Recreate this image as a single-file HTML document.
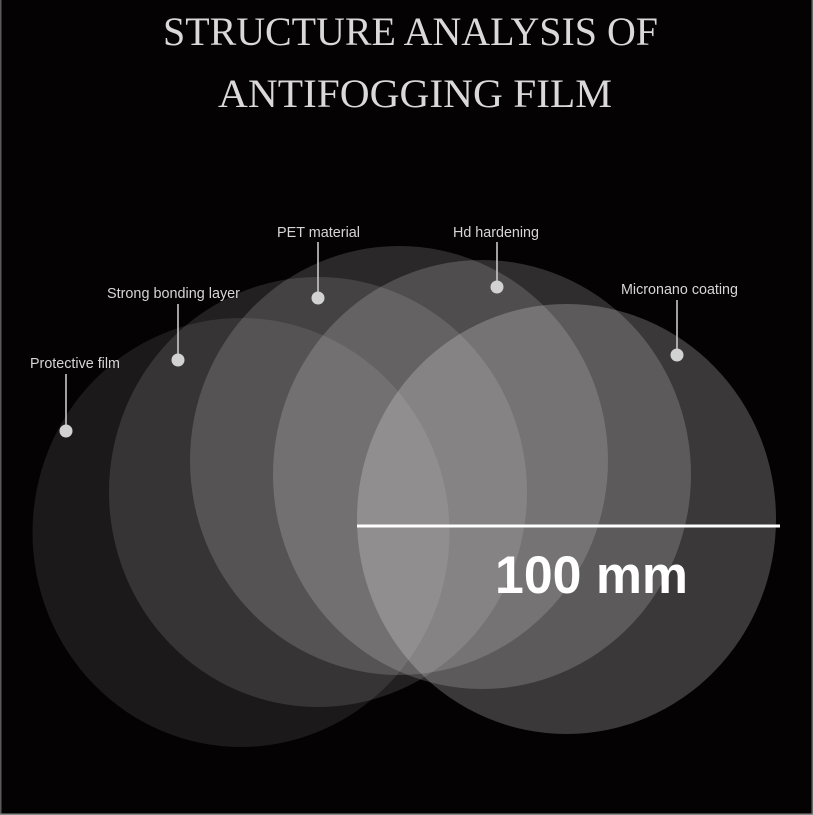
<!DOCTYPE html>
<html>
<head>
<meta charset="utf-8">
<style>
  html, body { margin:0; padding:0; background:#050203; }
  body { width:813px; height:815px; overflow:hidden; }
  svg { display:block; }
</style>
</head>
<body>
<svg width="813" height="815" viewBox="0 0 813 815" xmlns="http://www.w3.org/2000/svg">
  <rect x="0" y="0" width="813" height="815" fill="#050203"/>
  <!-- edge lines -->
  <rect x="0" y="0" width="1.5" height="815" fill="#5a5a5a"/>
  <rect x="811.5" y="0" width="1.5" height="815" fill="#6a6a6a"/>
  <rect x="0" y="813.5" width="813" height="1.5" fill="#8a8a8a"/>

  <!-- Title -->
  <g font-family="'Liberation Serif', serif" fill="#d9d9d9" font-size="40">
    <text x="163" y="45" textLength="495" lengthAdjust="spacingAndGlyphs">STRUCTURE ANALYSIS OF</text>
    <text x="218" y="107" textLength="394" lengthAdjust="spacingAndGlyphs">ANTIFOGGING FILM</text>
  </g>

  <!-- Circles -->
  <ellipse cx="241" cy="532.5" rx="208.5" ry="214.5" fill="#ffffff" fill-opacity="0.094"/>
  <ellipse cx="318" cy="492" rx="209" ry="215" fill="#ffffff" fill-opacity="0.12"/>
  <ellipse cx="399" cy="460.5" rx="209" ry="214.5" fill="#ffffff" fill-opacity="0.152"/>
  <ellipse cx="482" cy="474.5" rx="209" ry="214.5" fill="#ffffff" fill-opacity="0.174"/>
  <ellipse cx="566.5" cy="519" rx="209.5" ry="215" fill="#ffffff" fill-opacity="0.217"/>

  <!-- Connectors -->
  <g stroke="#c8c8c8" stroke-width="1.6">
    <line x1="66" y1="374" x2="66" y2="432"/>
    <line x1="178" y1="304" x2="178" y2="360"/>
    <line x1="318" y1="242" x2="318" y2="298"/>
    <line x1="497" y1="242" x2="497" y2="287"/>
    <line x1="677" y1="300" x2="677" y2="355"/>
  </g>
  <g fill="#d2d2d2">
    <circle cx="66" cy="431" r="6.5"/>
    <circle cx="178" cy="360" r="6.5"/>
    <circle cx="318" cy="298" r="6.5"/>
    <circle cx="497" cy="287" r="6.5"/>
    <circle cx="677" cy="355" r="6.5"/>
  </g>

  <!-- Labels -->
  <g font-family="'Liberation Sans', Arial, sans-serif" font-size="14.5" fill="#d6d6d6">
    <text x="30" y="368" textLength="90" lengthAdjust="spacingAndGlyphs">Protective film</text>
    <text x="107" y="298" textLength="133" lengthAdjust="spacingAndGlyphs">Strong bonding layer</text>
    <text x="277" y="237" textLength="83" lengthAdjust="spacingAndGlyphs">PET material</text>
    <text x="453" y="237" textLength="86" lengthAdjust="spacingAndGlyphs">Hd hardening</text>
    <text x="621" y="294" textLength="117" lengthAdjust="spacingAndGlyphs">Micronano coating</text>
  </g>

  <!-- Scale bar -->
  <rect x="357" y="524.5" width="423" height="3" fill="#ffffff"/>
  <text x="495" y="593" font-family="'Liberation Sans', Arial, sans-serif" font-weight="bold" font-size="53" fill="#ffffff" textLength="193" lengthAdjust="spacingAndGlyphs">100 mm</text>
</svg>
</body>
</html>
